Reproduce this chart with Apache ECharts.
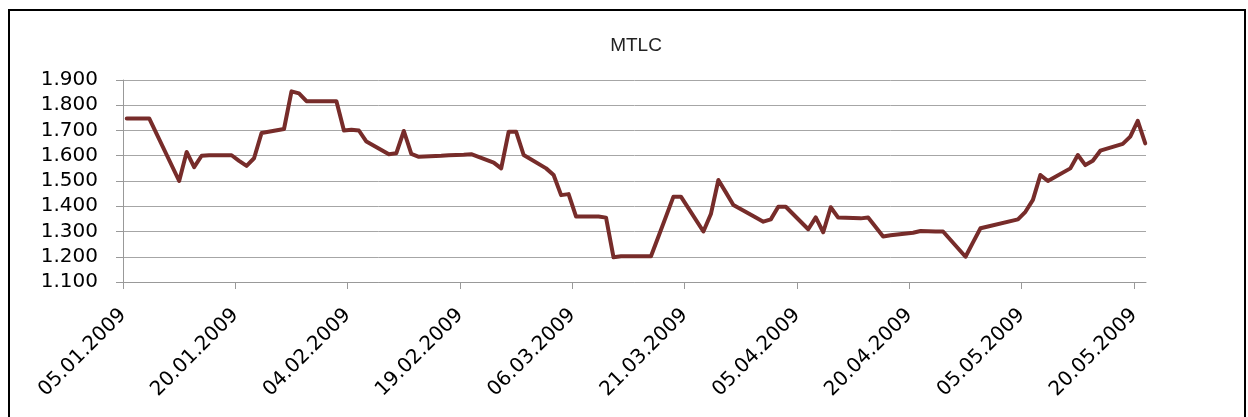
<!DOCTYPE html>
<html>
<head>
<meta charset="utf-8">
<script src="https://cdn.jsdelivr.net/npm/echarts@6/dist/echarts.min.js"></script>
<style>
html,body{margin:0;padding:0;background:#fff;}
#chart{width:1248px;height:417px;}
</style>
</head>
<body>
<div id="chart"></div>
<script>
const chartTitle = 'MTLC';
const year = 2009;

const dates = [
  '05.01','06.01','08.01','12.01','13.01','14.01','15.01','16.01','19.01','20.01',
  '21.01','22.01','23.01','26.01','27.01','28.01','29.01','30.01','02.02','03.02',
  '04.02','05.02','06.02','09.02','10.02','11.02','12.02','13.02','16.02','17.02',
  '18.02','19.02','20.02','23.02','24.02','25.02','26.02','27.02','02.03','03.03',
  '04.03','05.03','06.03','09.03','10.03','11.03','12.03','13.03','16.03','17.03',
  '18.03','19.03','20.03','23.03','24.03','25.03','26.03','27.03','30.03','31.03',
  '01.04','02.04','03.04','06.04','07.04','08.04','09.04','10.04','13.04','14.04',
  '15.04','16.04','17.04','20.04','21.04','22.04','23.04','24.04','27.04','28.04',
  '29.04','30.04','04.05','05.05','06.05','07.05','08.05','11.05','12.05','13.05',
  '14.05','15.05','18.05','19.05','20.05','21.05'
];

const values = [
  1.748,1.748,1.748,1.500,1.615,1.555,1.600,1.602,1.602,1.580,
  1.560,1.590,1.690,1.706,1.855,1.847,1.816,1.816,1.816,1.700,
  1.703,1.700,1.656,1.606,1.610,1.698,1.607,1.596,1.600,1.602,
  1.603,1.604,1.606,1.573,1.550,1.695,1.695,1.603,1.550,1.524,
  1.444,1.448,1.359,1.359,1.355,1.198,1.202,1.202,1.202,1.280,
  1.359,1.438,1.438,1.300,1.369,1.504,1.455,1.405,1.355,1.339,
  1.348,1.398,1.398,1.309,1.356,1.297,1.396,1.355,1.352,1.355,
  1.318,1.280,1.285,1.295,1.302,1.301,1.300,1.300,1.200,1.257,
  1.313,1.320,1.348,1.378,1.425,1.524,1.500,1.550,1.603,1.563,
  1.580,1.620,1.647,1.676,1.738,1.649
];

const xTickLabels = [
  '05.01.2009','20.01.2009','04.02.2009','19.02.2009','06.03.2009',
  '21.03.2009','05.04.2009','20.04.2009','05.05.2009','20.05.2009'
];

const yMin = 1.1, yMax = 1.9, yStep = 0.1;

function dayIndex(s) {
  const p = s.split('.');
  const y = p[2] ? +p[2] : year;
  return (Date.UTC(y, +p[1] - 1, +p[0]) - Date.UTC(2009, 0, 5)) / 864e5;
}

// Excel date axis: each date occupies a one-day slot, point centred in it
const seriesData = dates.map((d, i) => [dayIndex(d) + 0.5, values[i]]);
const tickValues = xTickLabels.map(dayIndex);

const chart = echarts.init(document.getElementById('chart'), null, {renderer: 'canvas'});
chart.setOption({
  animation: false,
  backgroundColor: '#fff',
  title: {
    text: chartTitle,
    left: 631,
    top: 31,
    textAlign: 'center',
    textStyle: {fontFamily: 'Liberation Sans', fontSize: 19, fontWeight: 'normal', color: '#222'}
  },
  graphic: [{
    type: 'rect',
    silent: true,
    shape: {x: 9, y: 10, width: 1236, height: 440},
    style: {fill: 'none', stroke: '#000', lineWidth: 2}
  }],
  grid: {left: 123, right: 102, top: 80, bottom: 135, containLabel: false},
  xAxis: {
    type: 'value',
    min: 0,
    max: 136.6,
    interval: 15,
    axisLine: {show: true, onZero: false, lineStyle: {color: '#999', width: 1}},
    axisTick: {show: true, length: 7, inside: false, customValues: tickValues, lineStyle: {color: '#999'}},
    axisLabel: {
      customValues: tickValues,
      rotate: 45,
      margin: 30,
      fontFamily: 'DejaVu Sans',
      fontSize: 20,
      color: '#000',
      formatter: function (v) {
        const i = tickValues.indexOf(v);
        return i >= 0 ? xTickLabels[i] : '';
      }
    },
    splitLine: {show: false}
  },
  yAxis: {
    type: 'value',
    min: yMin,
    max: yMax,
    interval: yStep,
    axisLine: {show: true, lineStyle: {color: '#999', width: 1}},
    axisTick: {show: true, length: 7, inside: false, lineStyle: {color: '#999'}},
    axisLabel: {
      margin: 25,
      fontFamily: 'DejaVu Sans',
      fontSize: 20,
      color: '#000',
      formatter: v => v.toFixed(3)
    },
    splitLine: {show: true, lineStyle: {color: '#a6a6a6', width: 1}}
  },
  series: [{
    type: 'line',
    data: seriesData,
    symbol: 'none',
    showSymbol: false,
    lineStyle: {color: '#772C2A', width: 4, cap: 'round', join: 'round'}
  }]
});
</script>
</body>
</html>
